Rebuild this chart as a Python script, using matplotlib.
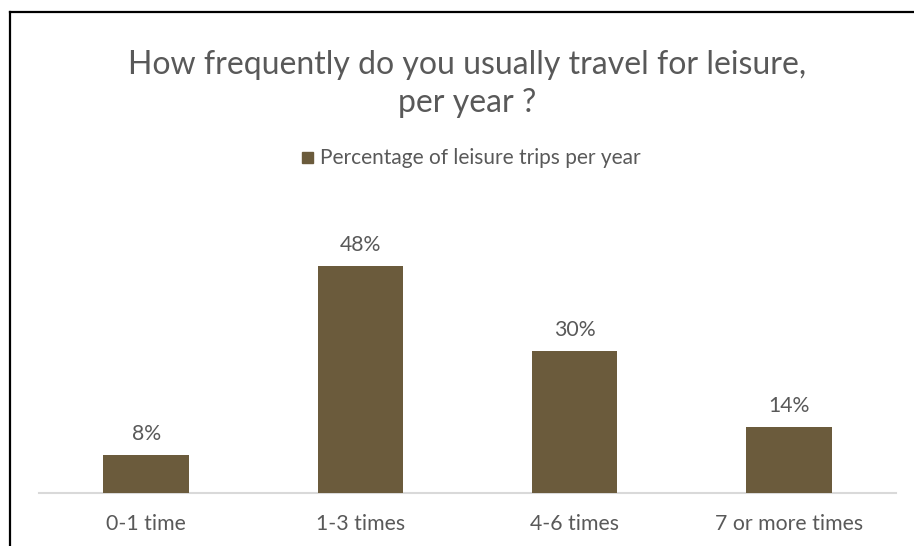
import matplotlib
matplotlib.use("Agg")
import matplotlib.pyplot as plt
from matplotlib.lines import Line2D

categories = ["0-1 time", "1-3 times", "4-6 times", "7 or more times"]
values = [8, 48, 30, 14]
series_name = "Percentage of leisure trips per year"
title = "How frequently do you usually travel for leisure,\nper year ?"

W, H = 914, 546
fig = plt.figure(figsize=(W/100, H/100), dpi=100)
plt.rcParams['font.family'] = ['Lato', 'DejaVu Sans']
gray = "#595959"
bar_color = "#6b5b3c"

ax = fig.add_axes([39/W, (H-493)/H, (896-39)/W, (493-209)/H])
x = list(range(len(categories)))
ax.bar(x, values, width=0.4, color=bar_color, zorder=3)
ax.set_xlim(-0.5, 3.5)
ax.set_ylim(0, 60)
for s in ["top", "right", "left"]:
    ax.spines[s].set_visible(False)
ax.spines["bottom"].set_color("#d9d9d9")
ax.spines["bottom"].set_linewidth(1.5)
ax.set_yticks([])
ax.set_xticks(x)
ax.set_xticklabels(categories, color=gray, fontsize=15.3)
ax.tick_params(axis="x", length=0, pad=15)
for xi, v in zip(x, values):
    ax.annotate(f"{v}%", (xi, v), xytext=(0, 8), textcoords="offset points",
                ha="center", va="bottom", color=gray, fontsize=15.3)

fig.text(467/W, 1-84/H, title, ha="center", va="center", fontsize=23,
         color=gray, linespacing=1.33)

# legend
fig.patches.append(plt.Rectangle((302/W, 1-163/H), 11/W, 11/H, color=bar_color,
                                 transform=fig.transFigure, figure=fig))
fig.text(320/W, 1-158/H, series_name, ha="left", va="center", fontsize=15, color=gray)

# frame border
fig.lines.append(Line2D([9.5/W, 9.5/W], [0, 1-11.5/H], transform=fig.transFigure,
                        color="black", linewidth=1.6))
fig.lines.append(Line2D([9.5/W, 1], [1-11.5/H, 1-11.5/H], transform=fig.transFigure,
                        color="black", linewidth=1.6))

fig.savefig("out.png", dpi=100, facecolor="white")
